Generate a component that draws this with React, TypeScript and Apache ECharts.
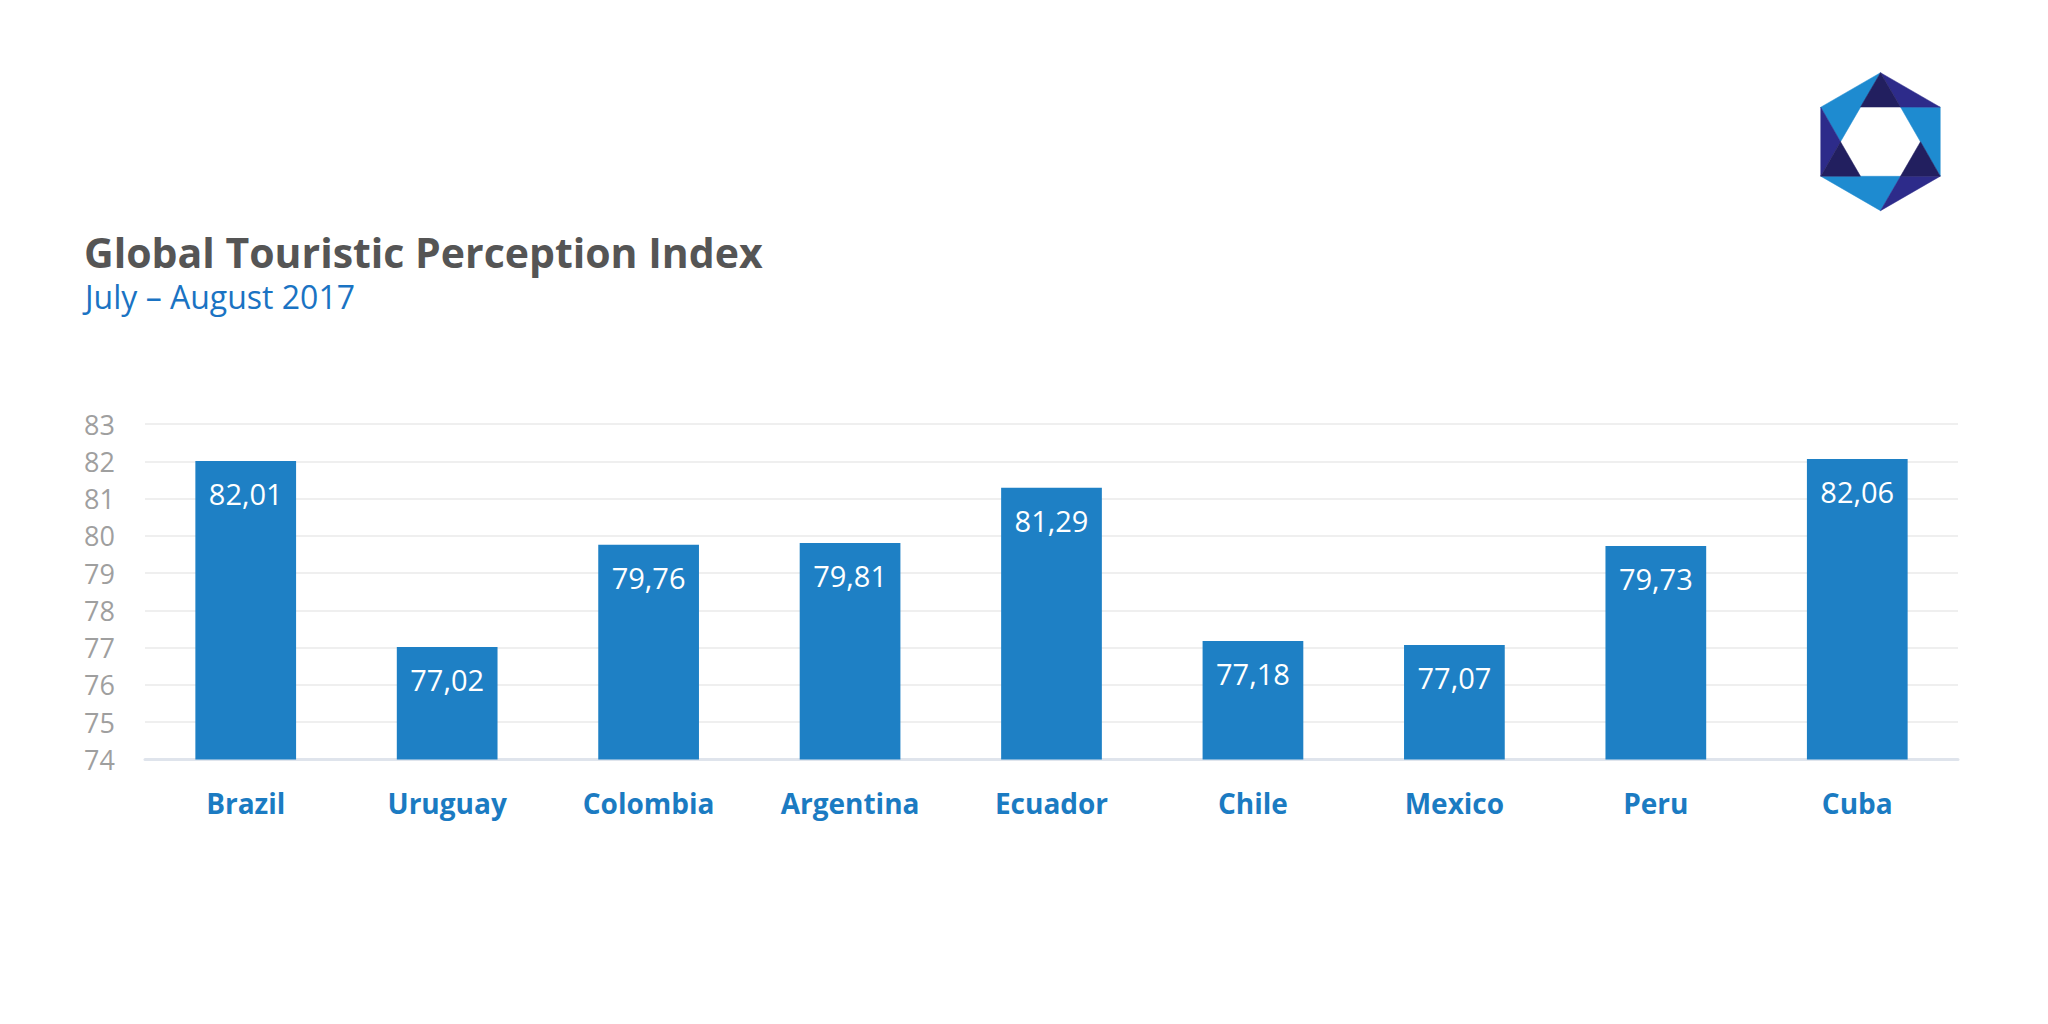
import React, { useEffect, useRef } from "react";
import * as echarts from "echarts";

// Index per country, July – August 2017
const countries = ["Brazil", "Uruguay", "Colombia", "Argentina", "Ecuador", "Chile", "Mexico", "Peru", "Cuba"];
const indexValues = [82.01, 77.02, 79.76, 79.81, 81.29, 77.18, 77.07, 79.73, 82.06];
const axisMin = 74;
const axisMax = 83;
const axisStep = 1;

const titleText = "Global Touristic Perception Index";
const subtitleText = "July – August 2017";

const FONT = "'Open Sans', 'Noto Sans', sans-serif";
const BAR_BLUE = "#1e80c5";
const LABEL_BLUE = "#1b7bc2";

// Hexagonal aperture logo: outer pointy-top hexagon, inner flat-top hexagon
function logoGraphics(cx: number, cy: number, R: number, r: number) {
  const outer = [0, 1, 2, 3, 4, 5].map((k) => {
    const a = ((-90 + 60 * k) * Math.PI) / 180;
    return [cx + R * Math.cos(a), cy + R * Math.sin(a)];
  });
  const inner = [0, 1, 2, 3, 4, 5].map((k) => {
    const a = ((60 * k) * Math.PI) / 180;
    return [cx + r * Math.cos(a), cy + r * Math.sin(a)];
  });
  const [O0, O1, O2, O3, O4, O5] = outer;
  const [Ir, Ibr, Ibl, Il, Itl, Itr] = inner;
  const light = "#1e8bd0";
  const indigo = "#2d2b8a";
  const dark = "#221f5f";
  const tris: [number[][], string][] = [
    [[O5, O0, Il], light],
    [[O1, O2, Itr], light],
    [[O3, O4, Ibr], light],
    [[O0, O1, Itr], indigo],
    [[O2, O3, Ibr], indigo],
    [[O4, O5, Il], indigo],
    [[O0, Itl, Itr], dark],
    [[Ir, O2, Ibr], dark],
    [[O4, Il, Ibl], dark],
  ];
  return tris.map(([pts, fill]) => ({
    type: "polygon",
    shape: { points: pts },
    style: { fill, stroke: fill, lineWidth: 0.5 },
    silent: true,
  }));
}

export default function App() {
  const ref = useRef<HTMLDivElement>(null);

  useEffect(() => {
    document.body.style.margin = "0";
    if (!ref.current) return;
    const chart = echarts.init(ref.current, undefined, { renderer: "svg" });
    chart.setOption({
      animation: false,
      backgroundColor: "#ffffff",
      graphic: [
        {
          type: "text",
          left: 84,
          top: 231,
          style: {
            text: titleText,
            fontFamily: FONT,
            fontWeight: "bold",
            fontSize: 41,
            lineHeight: 42,
            fill: "#555555",
          },
        },
        {
          type: "text",
          left: 85,
          top: 279,
          style: {
            text: subtitleText,
            fontFamily: FONT,
            fontSize: 32,
            lineHeight: 34,
            fill: "#1a73c3",
          },
        },
        ...logoGraphics(1880.5, 141.7, 69, 40),
      ],
      grid: { left: 145, right: 90, top: 424, bottom: 264.5, containLabel: false },
      xAxis: {
        type: "category",
        data: countries,
        axisLine: { show: true, lineStyle: { color: "#dfe4ec", width: 3 } },
        axisTick: { show: false },
        axisLabel: {
          margin: 29,
          color: LABEL_BLUE,
          fontFamily: FONT,
          fontWeight: "bold",
          fontSize: 28,
        },
      },
      yAxis: {
        type: "value",
        min: axisMin,
        max: axisMax,
        interval: axisStep,
        axisLine: { show: false },
        axisTick: { show: false },
        axisLabel: {
          margin: 30,
          color: "#9f9f9f",
          fontFamily: FONT,
          fontSize: 27,
        },
        splitLine: { lineStyle: { color: "#efefef", width: 2 } },
      },
      series: [
        {
          type: "bar",
          data: indexValues,
          barWidth: "50%",
          itemStyle: { color: BAR_BLUE },
          label: {
            show: true,
            position: "insideTop",
            distance: 18,
            color: "#ffffff",
            fontFamily: FONT,
            fontSize: 29,
            formatter: (p: any) => p.value.toFixed(2).replace(".", ","),
          },
        },
      ],
    });
    return () => chart.dispose();
  }, []);

  return (
    <div
      ref={ref}
      style={{ position: "absolute", left: 0, top: 0, width: 2048, height: 1024 }}
    />
  );
}
